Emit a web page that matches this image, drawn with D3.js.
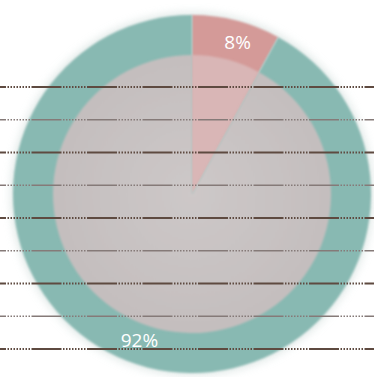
<!DOCTYPE html>
<html><head><meta charset="utf-8">
<script src="https://cdn.jsdelivr.net/npm/d3@7/dist/d3.min.js"></script>
<style>html,body{margin:0;padding:0;background:#fff;overflow:hidden}</style>
</head><body>
<svg id="c" width="374" height="377"></svg>
<script>
const labels = ["A", "B"];
const values = [8, 92];
const valueLabels = ["8%", "92%"];
const gridTicks = [1, 2, 3, 4, 5, 6, 7, 8, 9];
const gridStrong = [true, false, true, false, true, false, true, false, true];

const svg = d3.select("#c");
const W = 374, H = 377;
const cx = 192, cy = 194, R = 179, r0 = 139;

const defs = svg.append("defs");
const f = defs.append("filter").attr("id", "blur").attr("x", "-20%").attr("y", "-20%").attr("width", "140%").attr("height", "140%");
f.append("feGaussianBlur").attr("stdDeviation", 5);
const f2 = defs.append("filter").attr("id", "soft").attr("x", "-10%").attr("y", "-10%").attr("width", "120%").attr("height", "120%");
f2.append("feGaussianBlur").attr("stdDeviation", 1.2);
const rg = defs.append("radialGradient").attr("id", "ig");
rg.append("stop").attr("offset", "0%").attr("stop-color", "#cdc8c8");
rg.append("stop").attr("offset", "100%").attr("stop-color", "#c4bebe");

const g = svg.append("g").attr("transform", `translate(${cx},${cy})`);
const pie = d3.pie().sort(null).value(d => d);
const arcs = pie(values);
const outerCol = ["#d49a98", "#88b9b2"];
const innerCol = ["#d9b6b6", "url(#ig)"];

g.append("circle").attr("r", R + 2).attr("fill", "#cfdcd9").attr("opacity", 0.7).attr("filter", "url(#blur)");

const ring = d3.arc().innerRadius(0).outerRadius(R);
g.selectAll("path.o").data(arcs).join("path").attr("class", "o")
  .attr("d", ring).attr("fill", (d, i) => outerCol[i]).attr("filter", "url(#soft)");
const inner = d3.arc().innerRadius(0).outerRadius(r0);
g.selectAll("path.i").data(arcs).join("path").attr("class", "i")
  .attr("d", inner).attr("fill", (d, i) => innerCol[i]).attr("filter", "url(#soft)");

const y = d3.scalePoint().domain(gridTicks).range([87, 349]);
const dashStr = [30, 1.5].concat(d3.range(8).flatMap(() => [1.5, 1.5])).join(",");
svg.append("g").selectAll("line").data(gridTicks).join("line")
  .attr("x1", 0).attr("x2", W)
  .attr("y1", d => y(d)).attr("y2", d => y(d))
  .attr("stroke", (d, i) => gridStrong[i] ? "#5e4a40" : "#857a78")
  .attr("stroke-width", (d, i) => gridStrong[i] ? 1.8 : 1.4)
  .attr("stroke-dasharray", dashStr)
  .attr("stroke-dashoffset", 24);

const lab = d3.arc().innerRadius(150).outerRadius(160);
g.selectAll("text").data(arcs).join("text")
  .attr("transform", (d, i) => {
    const c = lab.centroid(d);
    return `translate(${c[0] + (i === 1 ? -14 : 7)},${c[1] + (i === 1 ? -4 : -2)})`;
  })
  .attr("text-anchor", "middle").attr("dominant-baseline", "central")
  .attr("fill", "#ffffff").attr("font-family", "Open Sans, DejaVu Sans, sans-serif")
  .attr("font-size", 19)
  .text((d, i) => valueLabels[i]);
</script>
</body></html>
